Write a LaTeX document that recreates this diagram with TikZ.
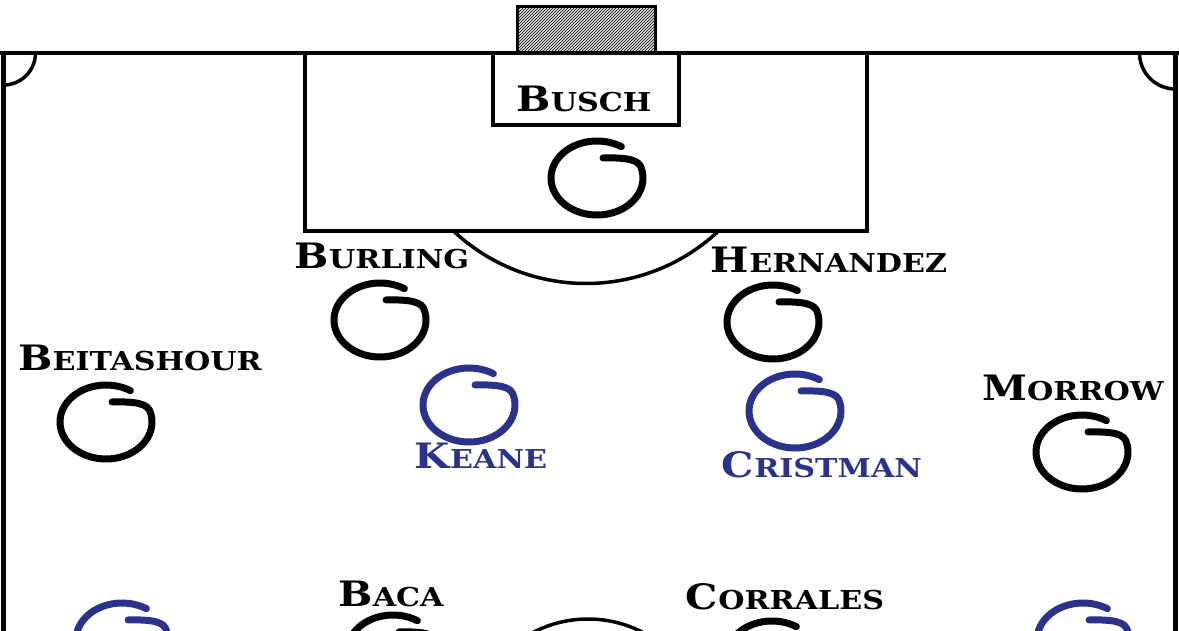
\documentclass[tikz,border=0pt]{standalone}
\usepackage{fontspec}
\usetikzlibrary{patterns}
\newfontfamily\labfont[FakeStretch=1.16]{DejaVu Serif}
\definecolor{pblue}{RGB}{43,50,140}
\newcommand\plab[2]{{\labfont\bfseries\fontsize{35}{35}\selectfont #1\fontsize{26}{26}\selectfont #2}}
\newcommand\pcirc[3]{\draw[#1, line width=7, line cap=round, line join=round] (#2,-#3) ++(58:46 and 37) arc[start angle=58,end angle=378,x radius=46,y radius=37] to[out=112,in=0,looseness=0.7] ++(-37.7,8.6);}
\tikzset{
  lab/.style={anchor=base, inner sep=0pt, text=black},
  blab/.style={lab, text=pblue},
  pitch/.style={line width=4.5, black},
}
\begin{document}
\begin{tikzpicture}[x=1pt,y=1pt]
\useasboundingbox (0,0) rectangle (1179,-630);
\begin{scope}
\clip (0,0) rectangle (1179,-630);
% goal
\fill[black!12] (517,-6) rectangle (655,-53);
\fill[pattern=north east lines] (517,-6) rectangle (655,-53);
\draw[line width=3] (517,-6) rectangle (655,-53);
% pitch outline
\draw[pitch] (0,-53) -- (1179,-53);
\draw[pitch] (3.5,-53) -- (3.5,-640);
\draw[pitch] (1175.5,-53) -- (1175.5,-640);
% corner arcs
\draw[line width=3.5] (3.5,-53) ++(0:32) arc[start angle=0,end angle=-90,radius=32];
\draw[line width=3.5] (1175.5,-53) ++(180:36) arc[start angle=180,end angle=270,radius=36];
% penalty box and goal area
\draw[line width=4] (305,-53) -- (305,-231) -- (867,-231) -- (867,-53);
\draw[line width=3.5] (493,-53) -- (493,-125) -- (679,-125) -- (679,-53);
% penalty arc
\draw[line width=3.5] (586,-90) ++(-132.8:193.5) arc[start angle=-132.8,end angle=-47.2,radius=193.5];
% centre circle
\draw[line width=3.5] (588,-738) circle[radius=119];
% players
\pcirc{black}{597}{178}
\pcirc{black}{380}{320}
\pcirc{black}{773}{322}
\pcirc{black}{106}{422}
\pcirc{black}{1082}{452}
\pcirc{pblue}{469}{405}
\pcirc{pblue}{795}{411}
\pcirc{pblue}{122}{640}
\pcirc{black}{393}{652}
\pcirc{black}{772}{658}
\pcirc{pblue}{1083}{640}
\end{scope}
% labels
\node[lab] (busch) at (584,-111) {\plab{B}{USCH}};
\node[lab] (burling) at (382,-268) {\plab{B}{URLING}};
\node[lab] (hernandez) at (829,-272) {\plab{H}{ERNANDEZ}};
\node[lab] (beitashour) at (140,-370) {\plab{B}{EITASHOUR}};
\node[lab] (morrow) at (1073,-400) {\plab{M}{ORROW}};
\node[blab] (keane) at (481,-468) {\plab{K}{EANE}};
\node[blab] (cristman) at (822,-477) {\plab{C}{RISTMAN}};
\node[lab] (baca) at (391,-606) {\plab{B}{ACA}};
\node[lab] (corrales) at (785,-609) {\plab{C}{ORRALES}};
\end{tikzpicture}
\end{document}
